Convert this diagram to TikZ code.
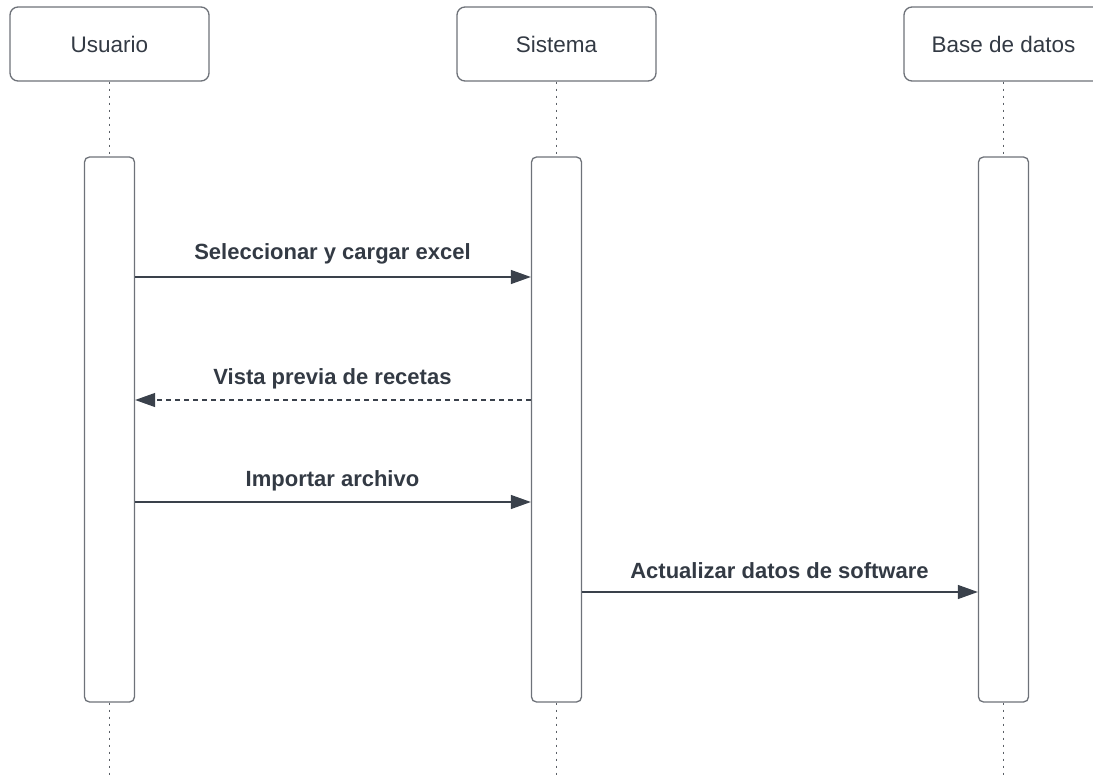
\documentclass[tikz,border=0pt]{standalone}
\usepackage{fontspec}
\setmainfont{Liberation Sans}
\usetikzlibrary{arrows.meta}
\definecolor{boxline}{HTML}{6E7279}
\definecolor{lineclr}{HTML}{3A414B}
\definecolor{dotclr}{HTML}{5A5F66}
\definecolor{txt}{HTML}{333A44}
\begin{document}
\begin{tikzpicture}[x=1pt,y=-1pt,
  header/.style={draw=boxline, line width=1.3pt, rounded corners=8pt, fill=white,
    minimum width=199pt, minimum height=74pt, inner sep=0pt, text=txt,
    font=\fontsize{22.5}{26}\selectfont},
  actbox/.style={draw=boxline, line width=1.3pt, rounded corners=5pt, fill=white,
    minimum width=50pt, minimum height=545pt, inner sep=0pt},
  lifeline/.style={draw=dotclr, line width=1pt, dash pattern=on 2pt off 5pt},
  msg/.style={draw=lineclr, line width=1.2pt, -{Triangle[length=20pt,width=14pt]}},
  ret/.style={msg, dash pattern=on 5pt off 4pt},
  lbl/.style={text=txt, font=\bfseries\fontsize{22}{26}\selectfont, inner sep=0pt}
]
\useasboundingbox (0,0) rectangle (1093,778);
% headers
\node[header] (hu) at (109.5,44) {Usuario};
\node[header] (hs) at (556.5,44) {Sistema};
\node[header] (hb) at (1003.5,44) {Base de datos};
% lifeline bottom ends
\coordinate (eu) at (109.5,778);
\coordinate (es) at (556.5,778);
\coordinate (eb) at (1003.5,778);
% activation boxes
\node[actbox] (au) at (109.5,429.5) {};
\node[actbox] (as) at (556.5,429.5) {};
\node[actbox] (ab) at (1003.5,429.5) {};
% lifelines
\draw[lifeline] (hu.south) -- (au.north);
\draw[lifeline] (au.south) -- (eu);
\draw[lifeline] (hs.south) -- (as.north);
\draw[lifeline] (as.south) -- (es);
\draw[lifeline] (hb.south) -- (ab.north);
\draw[lifeline] (ab.south) -- (eb);
% messages
\draw[msg] (au.east |- 0,277) -- (as.west |- 0,277);
\node[lbl] (l1) at (332.5,254) {Seleccionar y cargar excel};
\draw[ret] (as.west |- 0,400) -- (au.east |- 0,400);
\node[lbl] (l2) at (332.5,379) {Vista previa de recetas};
\draw[msg] (au.east |- 0,502) -- (as.west |- 0,502);
\node[lbl] (l3) at (332.5,481) {Importar archivo};
\draw[msg] (as.east |- 0,592) -- (ab.west |- 0,592);
\node[lbl] (l4) at (779.5,571) {Actualizar datos de software};
\end{tikzpicture}
\end{document}
